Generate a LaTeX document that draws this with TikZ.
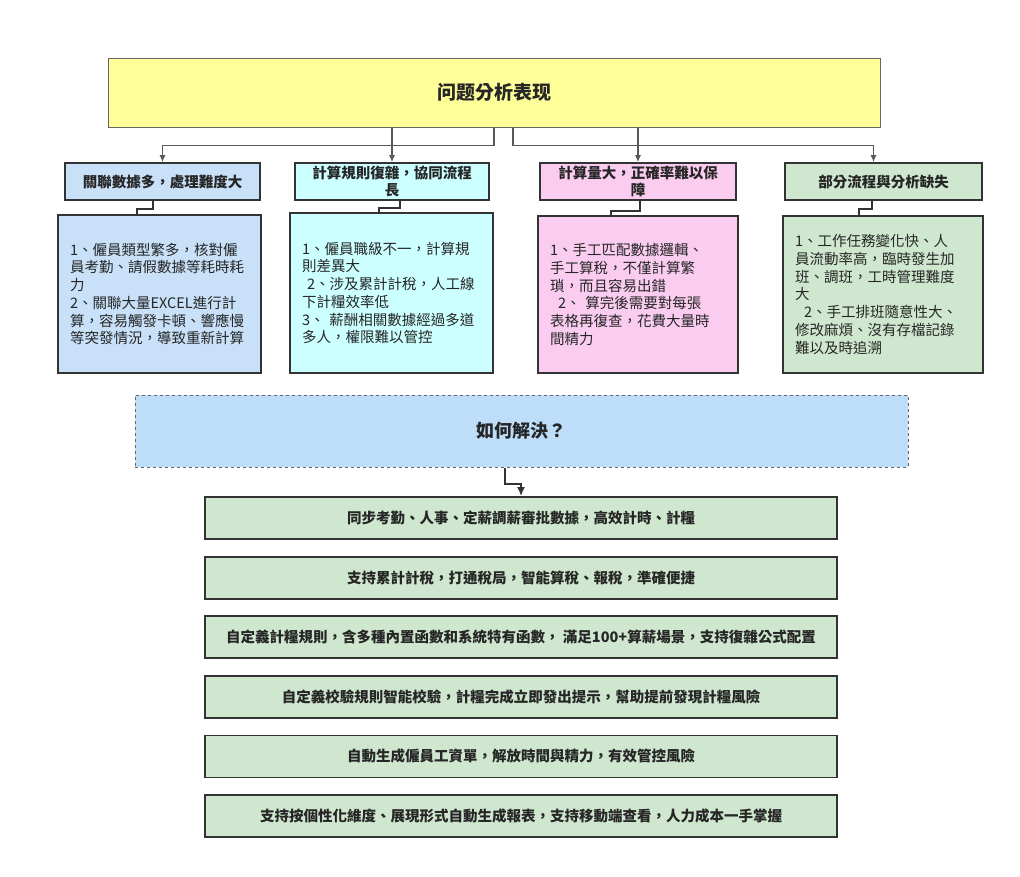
\documentclass[tikz,border=0pt]{standalone}
\usepackage{fontspec}
\setmainfont{Noto Sans CJK TC}
\usepackage{tikz}
\usetikzlibrary{arrows.meta}
\definecolor{hdyellow}{HTML}{FFFF99}
\definecolor{pblue}{HTML}{C8E0F8}
\definecolor{pcyan}{HTML}{CCFFFF}
\definecolor{ppink}{HTML}{FACDF0}
\definecolor{pgreen}{HTML}{CFE7CF}
\definecolor{askblue}{HTML}{BDDDF8}

\begin{document}
\begin{tikzpicture}[x=1pt,y=-1pt,
    txt/.style={font=\fontsize{14.5}{17.7}\selectfont, text=black!85},
    hbox/.style={txt, draw=black!80, line width=1.8pt, inner sep=0pt,
      minimum height=37pt, align=center, font=\fontsize{14.5}{17}\selectfont\bfseries},
    dbox/.style={txt, draw=black!80, line width=1.8pt, inner xsep=12pt, inner ysep=0pt, align=left},
    sbox/.style={txt, draw=black!80, line width=1.8pt, fill=pgreen, inner sep=0pt,
      minimum width=632pt, minimum height=42pt, font=\fontsize{14.5}{17}\selectfont\bfseries},
    conn/.style={draw=black!65, line width=1.2pt, -{Latex[length=7pt,width=6pt]}},
    link/.style={draw=black!80, line width=2pt}]
  \path[fill=white,use as bounding box] (0,0) rectangle (1020,876);

  \node[draw=black!60, line width=1pt, fill=hdyellow, minimum width=772pt, minimum height=69pt,
    font=\fontsize{19}{22}\selectfont\bfseries, text=black!85] (top) at (494,92.5) {问题分析表现};

  \node[hbox, fill=pblue, minimum width=195pt] (h1) at (162.5,181.5) {關聯數據多，處理難度大};
  \node[hbox, fill=pcyan, minimum width=194pt] (h2) at (392,181.5) {計算規則復雜，協同流程\\長};
  \node[hbox, fill=ppink, minimum width=196pt] (h3) at (638,181.5) {計算量大，正確率難以保\\障};
  \node[hbox, fill=pgreen, minimum width=197pt] (h4) at (883.5,181.5) {部分流程與分析缺失};

  \node[dbox, fill=pblue, text width=179pt, minimum height=158pt] (d1) at (159.5,294)
    {1、僱員類型繁多，核對僱\\員考勤、請假數據等耗時耗\\力\\2、關聯大量EXCEL進行計\\算，容易觸發卡頓、響應慢\\等突發情況，導致重新計算};
  \node[dbox, fill=pcyan, text width=179pt, minimum height=160pt] (d2) at (391.5,293)
    {1、僱員職級不一，計算規\\則差異大\\\hspace*{5pt}2、涉及累計計稅，人工線\\下計糧效率低\\3、 薪酬相關數據經過多道\\多人，權限難以管控};
  \node[dbox, fill=ppink, text width=176pt, minimum height=157pt] (d3) at (638,294.5)
    {1、手工匹配數據邏輯、\\手工算稅，不僅計算繁\\瑣，而且容易出錯\\\hspace*{8pt}2、 算完後需要對每張\\表格再復查，花費大量時\\間精力};
  \node[dbox, fill=pgreen, text width=176pt, minimum height=157pt] (d4) at (883,294.5)
    {1、工作任務變化快、人\\員流動率高，臨時發生加\\班、調班，工時管理難度\\大\\\hspace*{9pt}2、手工排班隨意性大、\\修改麻煩、沒有存檔記錄\\難以及時追溯};

  \draw[conn] (top.south) -- ++(0,18) -| (h1.north);
  \draw[conn] ([xshift=19pt]top.south) -- ++(0,18) -| ([xshift=-10pt]h4.north);
  \draw[conn] (h2.north |- top.south) -- (h2.north);
  \draw[conn] (h3.north |- top.south) -- (h3.north);

  \draw[link] ([xshift=-10pt]h1.south) -- ++(0,8) -| ([xshift=-23pt]d1.north);
  \draw[link] ([xshift=8pt]h2.south) -- ++(0,7) -| ([xshift=-12.5pt]d2.north);
  \draw[link] ([xshift=2pt]h3.south) -- ++(0,10) -| ([xshift=-27pt]d3.north);
  \draw[link] ([xshift=-11.5pt]h4.south) -- ++(0,8) -| ([xshift=-24pt]d4.north);

  \node[draw=black!60, dashed, line width=1pt, fill=askblue, minimum width=773pt, minimum height=72pt,
    font=\fontsize{18}{21}\selectfont\bfseries, text=black!85] (ask) at (521.5,431) {如何解決？};

  \foreach \i/\t in {1/同步考勤、人事、定薪調薪審批數據，高效計時、計糧,
      2/支持累計計稅，打通稅局，智能算稅、報稅，準確便捷,
      3/自定義計糧規則，含多種內置函數和系統特有函數， 滿足100+算薪場景，支持復雜公式配置,
      4/自定義校驗規則智能校驗，計糧完成立即發出提示，幫助提前發現計糧風險,
      5/自動生成僱員工資單，解放時間與精力，有效管控風險,
      6/支持按個性化維度、展現形式自動生成報表，支持移動端查看，人力成本一手掌握}
    \node[sbox] (s\i) at (521,{518+59.6*(\i-1)}) {\t};

  \draw[link, -{Latex[length=9pt,width=8pt]}] ([xshift=-16.5pt]ask.south) -- ++(0,16) -| (s1.north);
\end{tikzpicture}
\end{document}
